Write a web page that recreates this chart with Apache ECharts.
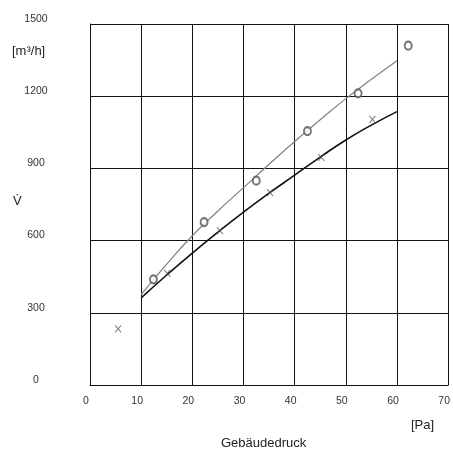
<!DOCTYPE html>
<html>
<head>
<meta charset="utf-8">
<script src="https://cdn.jsdelivr.net/npm/echarts@6/dist/echarts.min.js"></script>
<style>
  html, body { margin: 0; padding: 0; background: #fff; }
  #chart1 { width: 453px; height: 456px; }
</style>
</head>
<body>
<div id="chart1"></div>
<script>
// Messpunkte (Druck in Pa, Volumenstrom in m3/h)
const oPressure = [12.4, 22.3, 32.5, 42.5, 52.4, 62.2];
const oFlow = [439, 677, 849, 1055, 1212, 1410];
const xPressure = [5.5, 15.1, 25.4, 35.2, 45.2, 55.2];
const xFlow = [233, 464, 641, 799, 946, 1104];

// Ausgleichskurven
const curvePressure = [10, 15, 20, 25, 30, 35, 40, 45, 50, 55, 60];
const grayCurve = [376, 502, 620, 723, 820, 917, 1012, 1102, 1190, 1270, 1347];
const blackCurve = [362, 457, 548, 635, 718, 797, 872, 947, 1018, 1080, 1136];

const xTicks = [0, 10, 20, 30, 40, 50, 60, 70];
const yTicks = [0, 300, 600, 900, 1200, 1500];

const pairs = (xs, ys) => xs.map((v, i) => [v, ys[i]]);

let chart1;

function initCharts() {
    chart1 = echarts.init(document.getElementById('chart1'));

    let option = {
        animation: false,
        backgroundColor: '#fff',
        textStyle: { fontFamily: 'Liberation Sans, Arial, sans-serif' },
        grid: { left: 90, top: 24, width: 362, height: 361, containLabel: false },
        xAxis: {
            type: 'value',
            min: xTicks[0],
            max: xTicks[xTicks.length - 1],
            interval: 10,
            axisLine: { show: true, lineStyle: { color: '#111', width: 1 } },
            axisTick: { show: false },
            splitLine: { show: true, lineStyle: { color: '#111', width: 1 } },
            axisLabel: {
                color: '#333', fontSize: 10.5, margin: 11,
                align: 'center', padding: [0, 8, 0, 0],
                formatter: v => String(v)
            }
        },
        yAxis: {
            type: 'value',
            min: yTicks[0],
            max: yTicks[yTicks.length - 1],
            interval: 300,
            axisLine: { show: true, lineStyle: { color: '#111', width: 1 } },
            axisTick: { show: false },
            splitLine: { show: true, lineStyle: { color: '#111', width: 1 } },
            axisLabel: {
                color: '#333', fontSize: 10.5, margin: 54, lineHeight: 10,
                align: 'center', verticalAlign: 'bottom',
                formatter: v => String(v)
            }
        },
        graphic: [
            { type: 'text', left: 12, top: 45, style: { text: '[m³/h]', fill: '#222', font: '13px Liberation Sans' } },
            { type: 'text', left: 13, top: 195, style: { text: 'V\u0307', fill: '#222', font: '13px Liberation Sans' } },
            { type: 'text', left: 411, top: 419, style: { text: '[Pa]', fill: '#222', font: '13px Liberation Sans' } },
            { type: 'text', left: 221, top: 437, style: { text: 'Gebäudedruck', fill: '#222', font: '13px Liberation Sans' } }
        ],
        series: [
            {
                name: 'Kurve o',
                type: 'line',
                data: pairs(curvePressure, grayCurve),
                smooth: true,
                showSymbol: false,
                lineStyle: { color: '#808080', width: 1.2 },
                z: 3
            },
            {
                name: 'Kurve x',
                type: 'line',
                data: pairs(curvePressure, blackCurve),
                smooth: true,
                showSymbol: false,
                lineStyle: { color: '#111', width: 1.6 },
                z: 3
            },
            {
                name: 'o',
                type: 'scatter',
                data: pairs(oPressure, oFlow),
                symbol: 'emptyCircle',
                symbolSize: [7, 8],
                itemStyle: { color: '#555', borderColor: '#555', borderWidth: 0.8 },
                z: 4
            },
            {
                name: 'x',
                type: 'scatter',
                data: pairs(xPressure, xFlow),
                symbol: 'path://M0,0L10,10M10,0L0,10',
                symbolSize: [6, 7],
                itemStyle: { color: 'none', borderColor: '#555', borderWidth: 1 },
                z: 4
            }
        ]
    };

    chart1.setOption(option);
}

document.addEventListener('DOMContentLoaded', function () {
    initCharts();
});

window.addEventListener('resize', function () {
    chart1.resize();
});
</script>
</body>
</html>
